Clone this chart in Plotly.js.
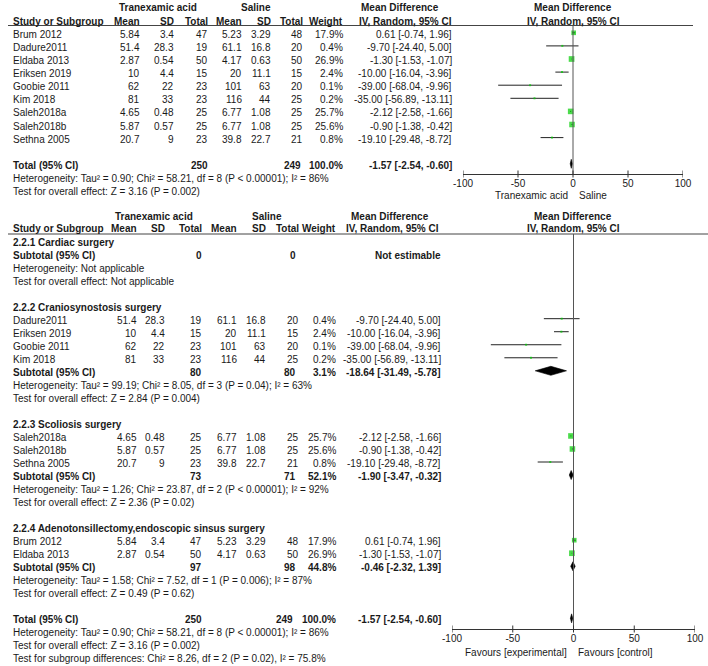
<!DOCTYPE html>
<html><head><meta charset="utf-8">
<script src="https://cdn.plot.ly/plotly-3.0.1.min.js"></script>
<style>html,body{margin:0;padding:0;background:#fff}</style>
</head><body><div id="chart" style="width:708px;height:666px"></div>
<script>
// ---------------- data ----------------
const studies  = ['Brum 2012','Dadure2011','Eldaba 2013','Eriksen 2019','Goobie 2011','Kim 2018','Saleh2018a','Saleh2018b','Sethna 2005'];
const txaMean  = [5.84, 51.4, 2.87, 10, 62, 81, 4.65, 5.87, 20.7];
const txaSD    = [3.4, 28.3, 0.54, 4.4, 22, 33, 0.48, 0.57, 9];
const txaN     = [47, 19, 50, 15, 23, 23, 25, 25, 23];
const salMean  = [5.23, 61.1, 4.17, 20, 101, 116, 6.77, 6.77, 39.8];
const salSD    = [3.29, 16.8, 0.63, 11.1, 63, 44, 1.08, 1.08, 22.7];
const salN     = [48, 20, 50, 15, 20, 25, 25, 25, 21];
const weights  = [17.9, 0.4, 26.9, 2.4, 0.1, 0.2, 25.7, 25.6, 0.8];
const mdVal    = [0.61, -9.70, -1.30, -10.00, -39.00, -35.00, -2.12, -0.90, -19.10];
const mdLo     = [-0.74, -24.40, -1.53, -16.04, -68.04, -56.89, -2.58, -1.38, -29.48];
const mdHi     = [1.96, 5.00, -1.07, -3.96, -9.96, -13.11, -1.66, -0.42, -8.72];

const groupNames   = ['2.2.1 Cardiac surgery','2.2.2 Craniosynostosis surgery','2.2.3 Scoliosis surgery','2.2.4 Adenotonsillectomy,endoscopic sinsus surgery'];
const groupMembers = [[], [1,3,4,5], [6,7,8], [0,2]];
const groupTxaN    = [0, 80, 73, 97];
const groupSalN    = [0, 80, 71, 98];
const groupWeight  = [null, 3.1, 52.1, 44.8];
const groupMD      = [null, -18.64, -1.90, -0.46];
const groupLo      = [null, -31.49, -3.47, -2.32];
const groupHi      = [null, -5.78, -0.32, 1.39];
const groupHet     = ['Heterogeneity: Not applicable',
  'Heterogeneity: Tau² = 99.19; Chi² = 8.05, df = 3 (P = 0.04); I² = 63%',
  'Heterogeneity: Tau² = 1.26; Chi² = 23.87, df = 2 (P < 0.00001); I² = 92%',
  'Heterogeneity: Tau² = 1.58; Chi² = 7.52, df = 1 (P = 0.006); I² = 87%'];
const groupTest    = ['Test for overall effect: Not applicable',
  'Test for overall effect: Z = 2.84 (P = 0.004)',
  'Test for overall effect: Z = 2.36 (P = 0.02)',
  'Test for overall effect: Z = 0.49 (P = 0.62)'];

const totalTxaN = 250, totalSalN = 249, totalWeight = 100.0;
const totalMD = -1.57, totalLo = -2.54, totalHi = -0.60;
const totalHet  = 'Heterogeneity: Tau² = 0.90; Chi² = 58.21, df = 8 (P < 0.00001); I² = 86%';
const totalTest = 'Test for overall effect: Z = 3.16 (P = 0.002)';
const subgroupTest = 'Test for subgroup differences: Chi² = 8.26, df = 2 (P = 0.02), I² = 75.8%';

const tickVals = [-100, -50, 0, 50, 100];
const tickText = ['-100', '-50', '0', '50', '100'];

// ---------------- layout helpers ----------------
const W = 708, H = 666;
const FONT = 'Liberation Sans, Arial, sans-serif';
const TXT = '#1a1a1a';
const FS = 10, FSB = 10;
const GREEN = '#00cc00';
const annotations = [];
const shapes = [];
const traces = [];

function txt(x, y, s, anchor, bold) {
  annotations.push({xref:'paper', yref:'y', x:x/W, y:y, text: bold ? '<b>'+s+'</b>' : s,
    xanchor:anchor, yanchor:'middle', showarrow:false, borderpad:0,
    font:{family:FONT, size: bold ? FSB : FS, color:TXT}});
}
function fmtCI(m,l,h){ return m.toFixed(2)+' ['+l.toFixed(2)+', '+h.toFixed(2)+']'; }
function hline(x0,x1,y,color){ shapes.push({type:'line', xref:'paper', yref:'y', x0:x0/W, x1:x1/W, y0:y, y1:y, line:{color:color, width:1}}); }

function addStudyRow(cols, ciRight, y, i) {
  txt(12, y, studies[i], 'left');
  const vals = [txaMean[i], txaSD[i], txaN[i], salMean[i], salSD[i], salN[i], weights[i].toFixed(1)+'%'];
  vals.forEach((v,j)=>txt(cols[j], y, String(v), 'right'));
  txt(ciRight, y, fmtCI(mdVal[i], mdLo[i], mdHi[i]), 'right');
}
function ciTrace(idx, ys, xa) {
  const xs = [], yy = [];
  idx.forEach((i,k)=>{ xs.push(mdLo[i], mdHi[i], null); yy.push(ys[k], ys[k], null); });
  traces.push({type:'scatter', mode:'lines', x:xs, y:yy, xaxis:xa, yaxis:'y',
    line:{color:'#222', width:1}, hoverinfo:'skip', showlegend:false});
  traces.push({type:'scatter', mode:'markers', x:idx.map(i=>mdVal[i]), y:ys, xaxis:xa, yaxis:'y',
    marker:{symbol:'square', color:GREEN, size:idx.map(i=>Math.max(2, Math.sqrt(weights[i])*1.1)), line:{width:0}},
    hoverinfo:'skip', showlegend:false});
}
function diamond(m,l,h,y,xa){
  traces.push({type:'scatter', mode:'lines', x:[l,m,h,m,l], y:[y,y-4.5,y,y+4.5,y], xaxis:xa, yaxis:'y',
    fill:'toself', fillcolor:'#000', line:{color:'#000', width:0.6}, hoverinfo:'skip', showlegend:false});
}
function axisTicks(xa, yAx){
  tickVals.forEach(v=>shapes.push({type:'line', xref:xa, yref:'y', x0:v, x1:v, y0:yAx-3.5, y1:yAx+3.5, line:{color:'#333', width:1}}));
}

// ---------------- TOP PANEL ----------------
const topCols = [141,175,209,243,272,304,344];
const topCI = 453;
const topY = k => 34.3 + 13.1*k;
const MOFF = -1.5;
txt(158, 7.5, 'Tranexamic acid', 'center', true);
txt(256, 7.5, 'Saline', 'center', true);
txt(400, 7.5, 'Mean Difference', 'center', true);
txt(573, 7.5, 'Mean Difference', 'center', true);
const hdr = ['Mean','SD','Total','Mean','SD','Total','Weight'];
txt(12, 21, 'Study or Subgroup', 'left', true);
hdr.forEach((h,j)=>txt(topCols[j], 21, h, 'right', true));
txt(topCI, 21, 'IV, Random, 95% CI', 'right', true);
txt(573, 21, 'IV, Random, 95% CI', 'center', true);
hline(8, 693, 25.5, '#444');

const topIdx = studies.map((s,i)=>i);
topIdx.forEach((i,k)=>addStudyRow(topCols, topCI, topY(k), i));
ciTrace(topIdx, topIdx.map((i,k)=>topY(k)+MOFF), 'x');
const tTot = topY(10);
txt(12, tTot, 'Total (95% CI)', 'left', true);
txt(topCols[2], tTot, String(totalTxaN), 'right', true);
txt(topCols[5]-2, tTot, String(totalSalN), 'right', true);
txt(topCols[6], tTot, totalWeight.toFixed(1)+'%', 'right', true);
txt(topCI, tTot, fmtCI(totalMD,totalLo,totalHi), 'right', true);
diamond(totalMD,totalLo,totalHi,tTot+MOFF,'x');
txt(12, topY(11), totalHet, 'left');
txt(12, topY(12), totalTest, 'left');
const topAxisY = 174;
shapes.push({type:'line', xref:'x', yref:'y', x0:0, x1:0, y0:25.5, y1:topAxisY, line:{color:'#555', width:1}});
axisTicks('x', topAxisY);
txt(569, 195, 'Tranexamic acid', 'right');
txt(578, 195, 'Saline', 'left');

// ---------------- BOTTOM PANEL ----------------
const botCols = [138,166,203,238,267,300,337];
const botCI = 442;
const botY = k => 242 + 13.03*k;
txt(154, 216, 'Tranexamic acid', 'center', true);
txt(267, 216, 'Saline', 'center', true);
txt(390, 216, 'Mean Difference', 'center', true);
txt(573, 216, 'Mean Difference', 'center', true);
txt(12, 228, 'Study or Subgroup', 'left', true);
hdr.forEach((h,j)=>txt(botCols[j], 228, h, 'right', true));
txt(440, 228, 'IV, Random, 95% CI', 'right', true);
txt(573, 228, 'IV, Random, 95% CI', 'center', true);
hline(8, 708, 234, '#444');

let k = 0;
groupNames.forEach((g,gi)=>{
  txt(12, botY(k), g, 'left', true); k++;
  const ys = [];
  groupMembers[gi].forEach(i=>{ addStudyRow(botCols, botCI, botY(k), i); ys.push(botY(k)+MOFF); k++; });
  if (ys.length) ciTrace(groupMembers[gi], ys, 'x2');
  const y = botY(k);
  txt(12, y, 'Subtotal (95% CI)', 'left', true);
  txt(botCols[2], y, String(groupTxaN[gi]), 'right', true);
  txt(botCols[5]-3, y, String(groupSalN[gi]), 'right', true);
  if (groupMD[gi] === null) {
    txt(botCI, y, 'Not estimable', 'right', true);
  } else {
    txt(botCols[6], y, groupWeight[gi].toFixed(1)+'%', 'right', true);
    txt(botCI, y, fmtCI(groupMD[gi],groupLo[gi],groupHi[gi]), 'right', true);
    diamond(groupMD[gi],groupLo[gi],groupHi[gi],y+MOFF,'x2');
  }
  k++;
  txt(12, botY(k), groupHet[gi], 'left'); k++;
  txt(12, botY(k), groupTest[gi], 'left'); k++;
  k++;
});
const bTot = botY(k);
txt(12, bTot, 'Total (95% CI)', 'left', true);
txt(botCols[2], bTot, String(totalTxaN), 'right', true);
txt(botCols[5]-6, bTot, String(totalSalN), 'right', true);
txt(botCols[6], bTot, totalWeight.toFixed(1)+'%', 'right', true);
txt(botCI, bTot, fmtCI(totalMD,totalLo,totalHi), 'right', true);
diamond(totalMD,totalLo,totalHi,bTot+MOFF,'x2');
txt(12, botY(k+1), totalHet, 'left');
txt(12, botY(k+2), totalTest, 'left');
txt(12, botY(k+3), subgroupTest, 'left');

const botAxisY = 629;
shapes.push({type:'line', xref:'x2', yref:'y', x0:0, x1:0, y0:234, y1:botAxisY, line:{color:'#555', width:1}});
axisTicks('x2', botAxisY);
txt(568, 652, 'Favours [experimental]', 'right');
txt(577, 652, 'Favours [control]', 'left');

const axCommon = {range:[-100,100], showgrid:false, zeroline:false, showline:true, linecolor:'#333', linewidth:1,
  ticks:'', tickvals:tickVals, ticktext:tickText,
  tickfont:{family:FONT, size:FS, color:TXT}, anchor:'free', fixedrange:true};

const layout = {
  width:W, height:H, margin:{l:0,r:0,t:0,b:0}, paper_bgcolor:'#fff', plot_bgcolor:'rgba(0,0,0,0)',
  showlegend:false,
  xaxis: Object.assign({}, axCommon, {domain:[463/W, 683/W], position:1-topAxisY/H}),
  xaxis2: Object.assign({}, axCommon, {domain:[452/W, 695/W], position:1-botAxisY/H}),
  yaxis: {range:[H,0], domain:[0,1], visible:false, fixedrange:true, anchor:'free', position:0},
  annotations: annotations, shapes: shapes
};
Plotly.newPlot('chart', traces, layout, {staticPlot:true, displayModeBar:false});
</script></body></html>
